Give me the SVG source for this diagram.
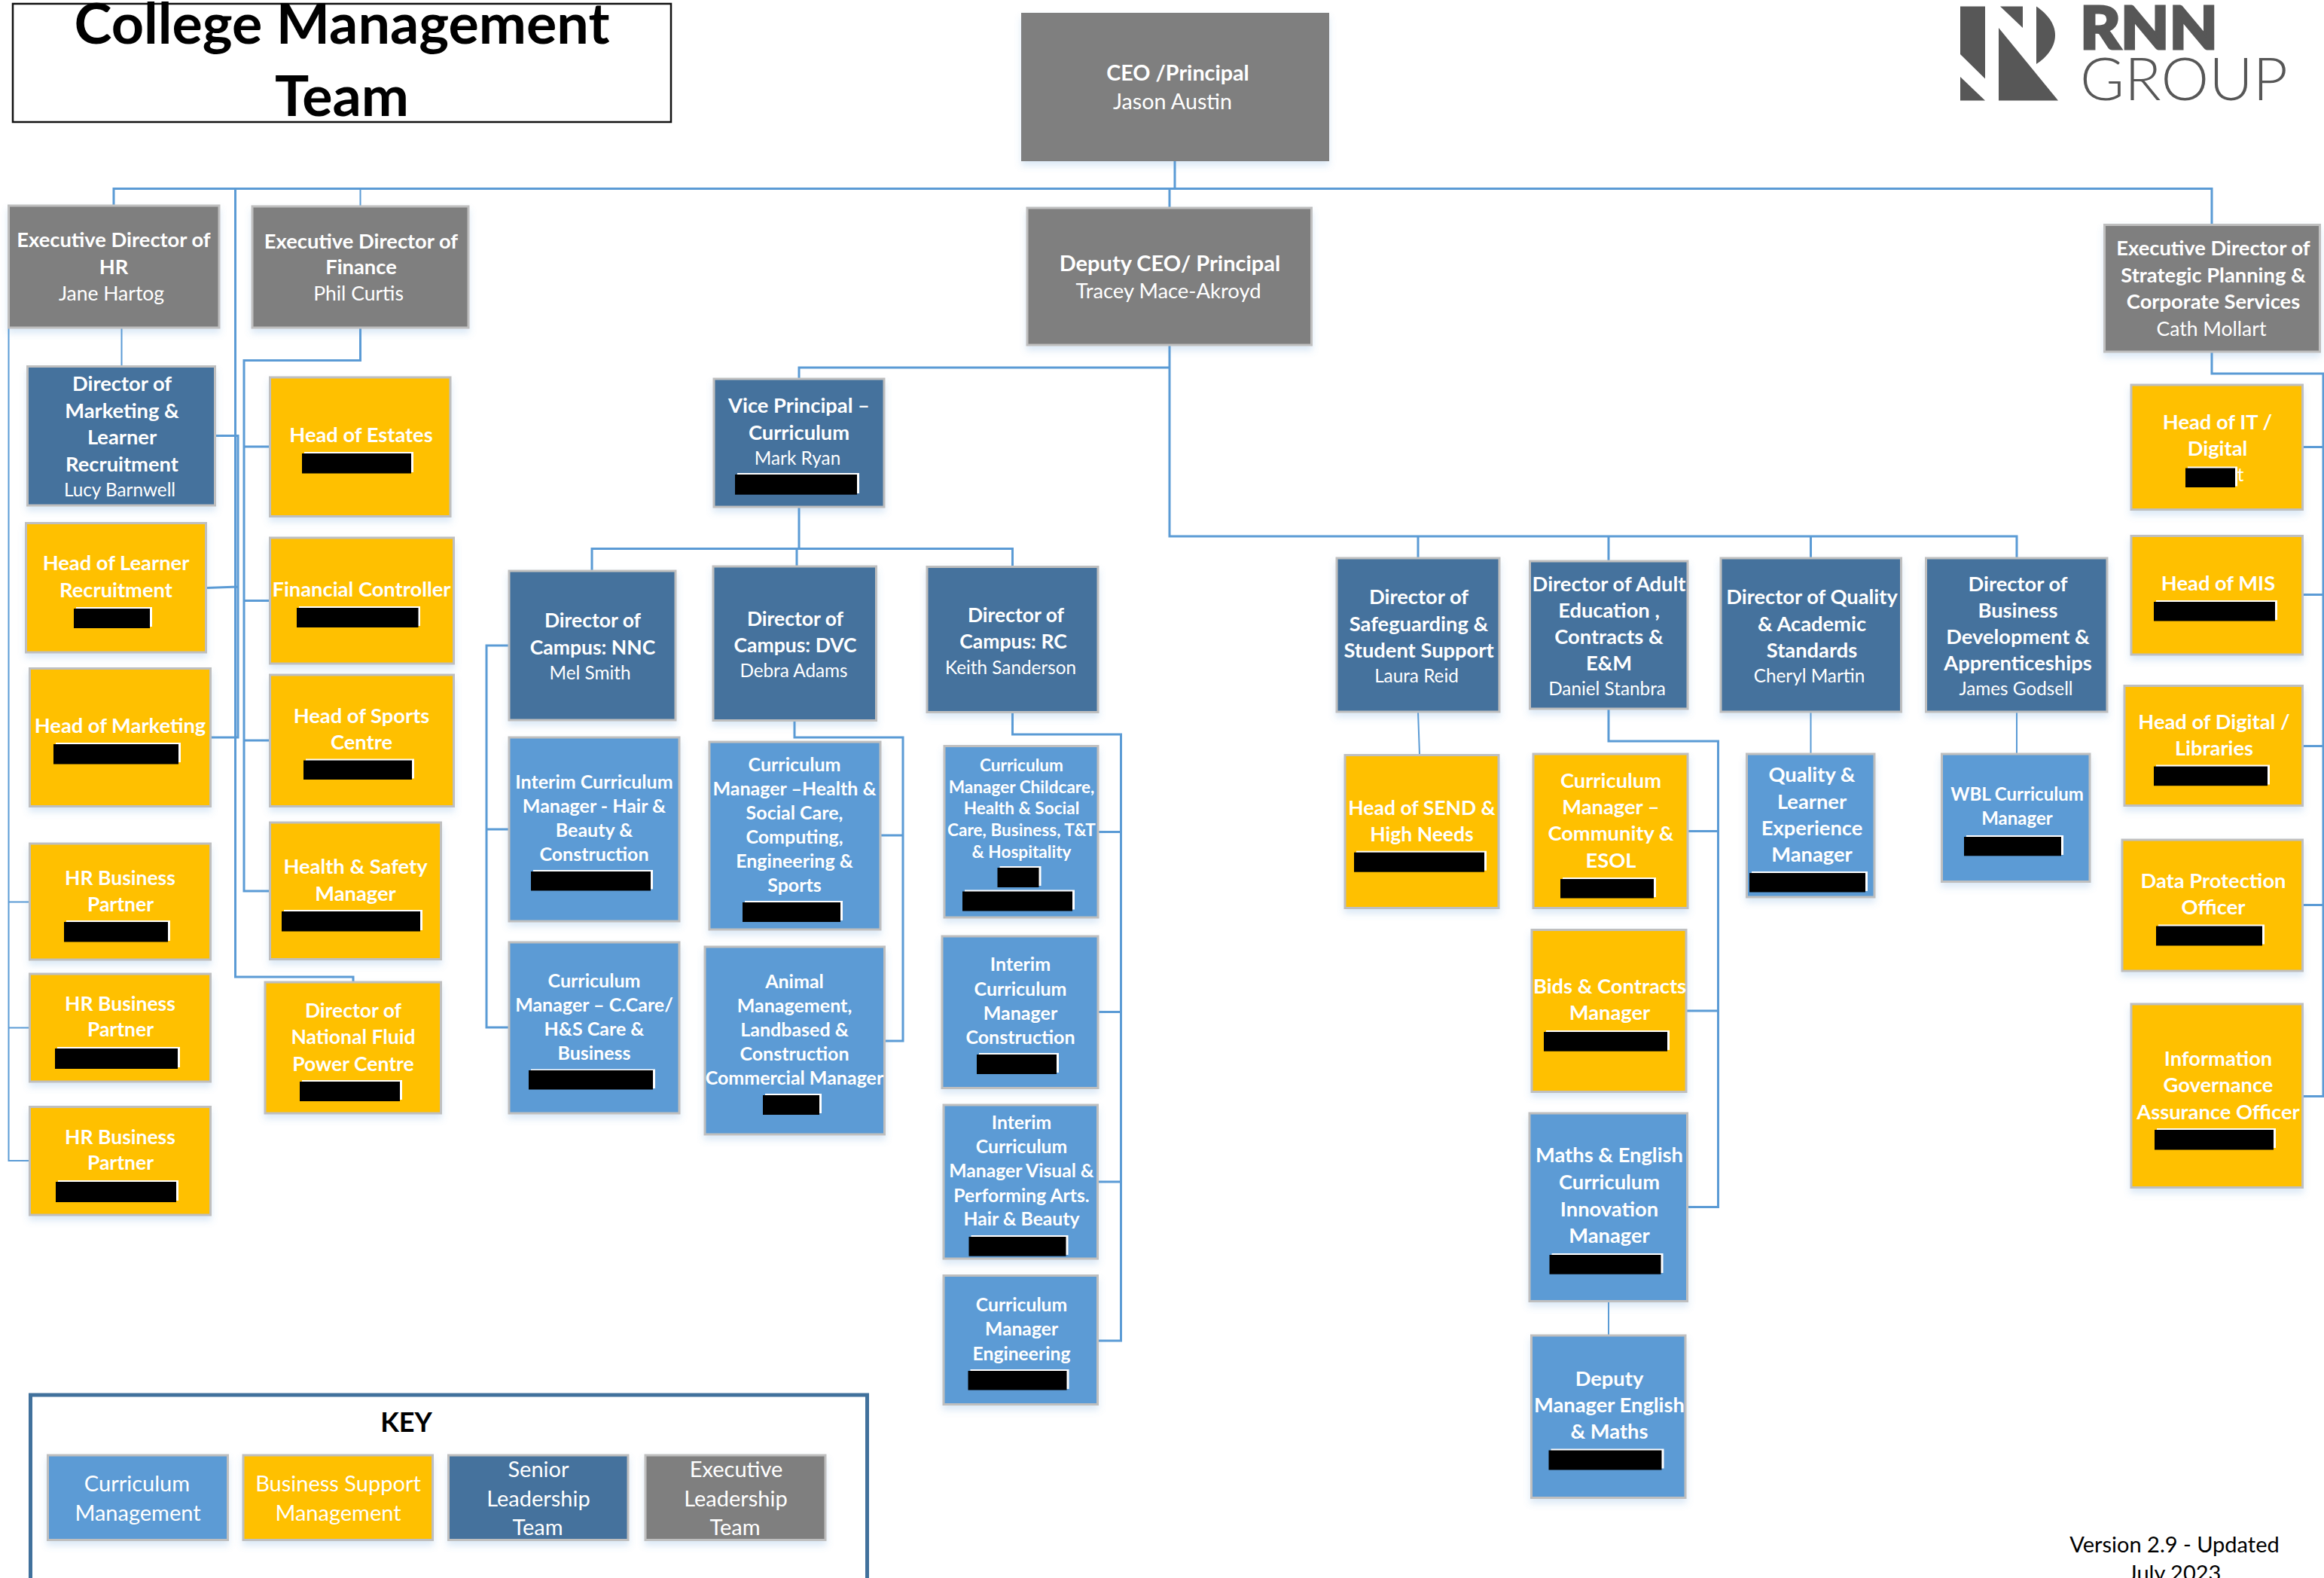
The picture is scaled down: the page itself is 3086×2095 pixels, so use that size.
<svg xmlns="http://www.w3.org/2000/svg" width="3086" height="2095" viewBox="0 0 3086 2095">
<style>
text{font-family:"Lato","Carlito","Noto Sans",sans-serif;fill:#fff;text-anchor:middle;font-weight:700}
.r{font-weight:400}
.n{font-weight:400}
.box{stroke:#bfbfbf;stroke-width:3;filter:url(#sh)}
.g{fill:#7f7f7f}.d{fill:#44729d}.c{fill:#5b9bd5}.y{fill:#ffc000}
.w{fill:#fff}.k{fill:#000}
.l{fill:none;stroke:#5b9bd5;stroke-width:3}
.t{stroke-width:2}
.s28 text{font-size:28.7px}
.s26 text{font-size:27.3px}.s265 text{font-size:26.5px}.s24 text{font-size:25px}.s21 text{font-size:22.6px}.s22 text{font-size:24.7px}.s23 text{font-size:24px}
.s26 .r,.s265 .r{font-size:26.5px}
.s26 .n,.s265 .n{font-size:24.3px}
.blk{fill:#000}
.logo{fill:#575757}
</style>
<defs><filter id="sh" x="-10%" y="-10%" width="120%" height="125%"><feDropShadow dx="0" dy="6" stdDeviation="5" flood-color="#5b9bd5" flood-opacity=".22"/></filter></defs>

<g id="title"><rect x="17" y="5" width="874" height="157" fill="#fff" stroke="#111" stroke-width="2.5"/>
<text class="blk" x="454" y="58" font-size="75.500">College Management</text><text class="blk" x="454" y="154" font-size="75.500">Team</text></g>

<g id="logo"><polygon class="logo" points="2603,8.500 2636,8.500 2636,104.500 2603,72"/><polygon class="logo" points="2603,102 2636,133.500 2603,133.500"/><polygon class="logo" points="2656,8.500 2686,8.500 2686,37"/><path class="logo" d="M2704,8.500C2718,18 2729,31 2729,47C2729,62 2718,76 2704,85Z"/><polygon class="logo" points="2654,37 2733,133.500 2654,133.500"/>
<text x="2853.500" y="65" font-size="78" textLength="183" lengthAdjust="spacingAndGlyphs" style="fill:#575757;font-weight:900;stroke:#575757;stroke-width:3">RNN</text>
<text x="2900" y="133" font-size="78" textLength="276" lengthAdjust="spacingAndGlyphs" style="fill:#575757;font-weight:300">GROUP</text></g>

<g id="connectors">
<path class="l" d="M1560 214V250.500M151 272V250.500H2937V298M1553 250.500V276M1553 458V712H2678V741M1553 488H1061V503M1061 673V728.500M786 758V728.500H1344.500V752M1058 728.500V752"/>
<path class="l" d="M1883 712V741M2136 712V745M2404.500 712V741"/>
<path class="l t" d="M1883 945L1885 1002M2404.500 945V1001M2678 945V1001"/>
<path class="l" d="M2136 941V984H2281.500V1602.500H2240M2241 1103.500H2281.500M2239 1342H2281.500"/>
<path class="l t" d="M2136 1727V1773"/>
<path class="l" d="M676 857H646V1364H676M646 1101H676"/>
<path class="l" d="M1055 957V979H1199V1382H1174M1169 1109H1199"/>
<path class="l" d="M1344.500 945V975H1488.500V1780H1457M1458 1104.500H1488.500M1458 1343.500H1488.500M1457 1569H1488.500"/>
<path class="l t" d="M11.500 355V1541H40M11.500 1197.500H40M11.500 1364.500H40"/>
<path class="l t" d="M161.500 435V487"/>
<path class="l" d="M478.500 435V478.500H324V1183H358M324 593H358M324 797.500H358M324 983H358"/>
<path class="l" d="M312.500 250.500V1297H469V1304"/>
<path class="l t" d="M478.500 250.500V274"/>
<path class="l" d="M286 578.500H316V979H279M274 780.500L316 779"/>
<path class="l" d="M2937 467V496H3085V1455.500H3057M3057 593.500H3085M3057 789.500H3085M3057 990.500H3085M3057 1201.500H3085"/>
</g>

<g id="ceo" class="s28"><rect x="1356" y="17" width="409" height="197" class="g" style="filter:url(#sh)"/><text x="1564" y="106.500">CEO /Principal</text><text class="r" x="1557" y="145">Jason Austin</text></g>
<g id="deputy"><rect class="box g" x="1364" y="276" width="377.500" height="182"/><text x="1553.500" y="360" font-size="29">Deputy CEO/ Principal</text><text class="r" x="1551.500" y="395.500" font-size="27.400">Tracey Mace-Akroyd</text></g>
<g id="hr" class="s26"><rect class="box g" x="11.500" y="273" width="279.500" height="162"/><text x="151" y="328">Executive Director of</text><text x="151" y="363.500">HR</text><text class="r" x="148" y="398.500">Jane Hartog</text></g>
<g id="finance" class="s26"><rect class="box g" x="335" y="274" width="287" height="161"/><text x="479.500" y="329.500">Executive Director of</text><text x="479.500" y="364">Finance</text><text class="r" x="476" y="399">Phil Curtis</text></g>
<g id="strategic" class="s26"><rect class="box g" x="2794.500" y="298.500" width="286" height="168.500"/><text x="2939" y="339.300">Executive Director of</text><text x="2939" y="375">Strategic Planning &amp;</text><text x="2939" y="410.400">Corporate Services</text><text class="r" x="2936.500" y="445.800">Cath Mollart</text></g>

<g id="marketing-director" class="s26"><rect class="box d" x="36.500" y="486.500" width="249" height="184.500"/><text x="162" y="519">Director of</text><text x="162" y="555">Marketing &amp;</text><text x="162" y="590">Learner</text><text x="162" y="625.500">Recruitment</text><text class="n" x="159" y="659">Lucy Barnwell</text></g>
<g id="learner-recruitment" class="s26"><rect class="box y" x="34.500" y="694.500" width="239" height="171.500"/><text x="154" y="757">Head of Learner</text><text x="154" y="792.500">Recruitment</text><rect class="w" x="101" y="806" width="101" height="26"/><rect class="k" x="98" y="808" width="101" height="26"/></g>
<g id="head-marketing" class="s26"><rect class="box y" x="39.500" y="887.500" width="240" height="183"/><text x="159.500" y="973.300">Head of Marketing</text><rect class="w" x="74" y="986" width="166" height="26"/><rect class="k" x="71" y="988" width="166" height="26.500"/></g>
<g id="hrbp1" class="s265"><rect class="box y" x="39.500" y="1120" width="240" height="154"/><text x="159.500" y="1174.600">HR Business</text><text x="160" y="1209.500">Partner</text><rect class="w" x="88" y="1222" width="138" height="27"/><rect class="k" x="85" y="1224" width="138" height="26.500"/></g>
<g id="hrbp2" class="s265"><rect class="box y" x="39.500" y="1293" width="240" height="143"/><text x="159.500" y="1341.600">HR Business</text><text x="160" y="1376.400">Partner</text><rect class="w" x="76" y="1390" width="163" height="27"/><rect class="k" x="73" y="1392" width="163" height="27"/></g>
<g id="hrbp3" class="s265"><rect class="box y" x="39.500" y="1469.500" width="240" height="143.500"/><text x="159.500" y="1518.600">HR Business</text><text x="160" y="1553.300">Partner</text><rect class="w" x="77" y="1567" width="160" height="27"/><rect class="k" x="74" y="1569" width="160" height="27"/></g>

<g id="estates" class="s26"><rect class="box y" x="358.500" y="501" width="239.500" height="184.500"/><text x="479.500" y="587">Head of Estates</text><rect class="w" x="404" y="600" width="145" height="27"/><rect class="k" x="401" y="602" width="145" height="26.500"/></g>
<g id="financial-controller" class="s26"><rect class="box y" x="358.500" y="714" width="244" height="167"/><text x="480" y="791.600">Financial Controller</text><rect class="w" x="397" y="805" width="161" height="26"/><rect class="k" x="394" y="807" width="161.500" height="26"/></g>
<g id="sports" class="s26"><rect class="box y" x="358.500" y="896" width="244" height="174.500"/><text x="480" y="959.500">Head of Sports</text><text x="480" y="994.700">Centre</text><rect class="w" x="406" y="1007.500" width="144" height="26"/><rect class="k" x="403" y="1009.500" width="144" height="25.500"/></g>
<g id="health-safety" class="s26"><rect class="box y" x="358.500" y="1092" width="227" height="181.500"/><text x="472" y="1160">Health &amp; Safety</text><text x="472" y="1195.600">Manager</text><rect class="w" x="377" y="1208" width="184" height="27"/><rect class="k" x="374" y="1210" width="184" height="26.500"/></g>
<g id="nfpc" class="s265"><rect class="box y" x="352" y="1304" width="233.500" height="174"/><text x="469" y="1350.500">Director of</text><text x="469" y="1385.500">National Fluid</text><text x="469" y="1421.500">Power Centre</text><rect class="w" x="401" y="1434" width="133" height="26"/><rect class="k" x="398" y="1436" width="133" height="26"/></g>

<g id="vice-principal" class="s26"><rect class="box d" x="948" y="503" width="226" height="170"/><text x="1061" y="548">Vice Principal –</text><text x="1061" y="583.500">Curriculum</text><text class="n" x="1059" y="617">Mark Ryan</text><rect class="w" x="979" y="628" width="162" height="27"/><rect class="k" x="976" y="630" width="162" height="26.700"/></g>
<g id="nnc" class="s265"><rect class="box d" x="676" y="758" width="221" height="198"/><text x="787" y="833">Director of</text><text x="787" y="868.500">Campus: NNC</text><text class="n" x="783.500" y="902">Mel Smith</text></g>
<g id="dvc" class="s265"><rect class="box d" x="947" y="752" width="216.500" height="204.500"/><text x="1056" y="830.700">Director of</text><text x="1056" y="866.400">Campus: DVC</text><text class="n" x="1054" y="899">Debra Adams</text></g>
<g id="rc" class="s265"><rect class="box d" x="1231" y="752.500" width="227" height="193"/><text x="1349" y="825.600">Director of</text><text x="1345.500" y="860.800">Campus: RC</text><text class="n" x="1342" y="894.500">Keith Sanderson</text></g>

<g id="interim-hair" class="s24"><rect class="box c" x="676" y="979" width="226" height="244"/><text x="789" y="1046.500">Interim Curriculum</text><text x="789" y="1078.700">Manager - Hair &amp;</text><text x="789" y="1110.800">Beauty &amp;</text><text x="789" y="1143">Construction</text><rect class="w" x="708" y="1155" width="159" height="25.500"/><rect class="k" x="705" y="1157" width="159" height="25.500"/></g>
<g id="ccare" class="s24"><rect class="box c" x="676" y="1251" width="226" height="227"/><text x="789" y="1310.800">Curriculum</text><text x="789" y="1343">Manager – C.Care/</text><text x="789" y="1375">H&amp;S Care &amp;</text><text x="789" y="1406.700">Business</text><rect class="w" x="705" y="1419.500" width="165" height="25.500"/><rect class="k" x="702" y="1421" width="165" height="25.500"/></g>
<g id="health-social" class="s24"><rect class="box c" x="942" y="985" width="227" height="249"/><text x="1055" y="1024">Curriculum</text><text x="1055" y="1056">Manager –Health &amp;</text><text x="1055" y="1088">Social Care,</text><text x="1055" y="1120">Computing,</text><text x="1055" y="1152">Engineering &amp;</text><text x="1055" y="1183.800">Sports</text><rect class="w" x="989" y="1196" width="130" height="26"/><rect class="k" x="986" y="1198" width="130" height="26"/></g>
<g id="animal" class="s24"><rect class="box c" x="936" y="1257" width="238.500" height="249"/><text x="1055" y="1311.800">Animal</text><text x="1055" y="1344">Management,</text><text x="1055" y="1376">Landbased &amp;</text><text x="1055" y="1408">Construction</text><text x="1055" y="1440">Commercial Manager</text><rect class="w" x="1016" y="1452" width="75" height="26"/><rect class="k" x="1013" y="1454" width="75" height="26"/></g>
<g id="childcare" class="s21"><rect class="box c" x="1254" y="990.500" width="204" height="227.500"/><text x="1356.500" y="1024">Curriculum</text><text x="1356.500" y="1053">Manager Childcare,</text><text x="1356.500" y="1081">Health &amp; Social</text><text x="1356.500" y="1110">Care, Business, T&amp;T</text><text x="1356.500" y="1139">&amp; Hospitality</text><rect class="w" x="1327.500" y="1150" width="55" height="26"/><rect class="k" x="1324.500" y="1152" width="55" height="26"/><rect class="w" x="1281" y="1181.500" width="146" height="26"/><rect class="k" x="1278" y="1183.500" width="146" height="26"/></g>
<g id="interim-construction" class="s24"><rect class="box c" x="1251" y="1243" width="207" height="201.500"/><text x="1355" y="1289.400">Interim</text><text x="1355" y="1321.500">Curriculum</text><text x="1355" y="1353.700">Manager</text><text x="1355" y="1385.800">Construction</text><rect class="w" x="1300" y="1398" width="106" height="26"/><rect class="k" x="1297" y="1400" width="106" height="26"/></g>
<g id="interim-visual" class="s22"><rect class="box c" x="1253" y="1467" width="204.500" height="204"/><text x="1356.500" y="1499.300">Interim</text><text x="1356.500" y="1531.200">Curriculum</text><text x="1356.500" y="1563">Manager Visual &amp;</text><text x="1356.500" y="1595.500">Performing Arts.</text><text x="1356.500" y="1627.400">Hair &amp; Beauty</text><rect class="w" x="1289.500" y="1640" width="129" height="26"/><rect class="k" x="1286.500" y="1642" width="129" height="25.700"/></g>
<g id="engineering" class="s22"><rect class="box c" x="1253" y="1693.500" width="204.500" height="171"/><text x="1356.500" y="1741.300">Curriculum</text><text x="1356.500" y="1773.200">Manager</text><text x="1356.500" y="1805.600">Engineering</text><rect class="w" x="1288.500" y="1818" width="131" height="26"/><rect class="k" x="1285.500" y="1820" width="131" height="25.500"/></g>

<g id="safeguarding" class="s26"><rect class="box d" x="1775" y="741" width="216" height="204"/><text x="1884" y="801.600">Director of</text><text x="1884" y="837.800">Safeguarding &amp;</text><text x="1884" y="872.800">Student Support</text><text class="n" x="1881" y="905.500">Laura Reid</text></g>
<g id="adult" class="s26"><rect class="box d" x="2031.500" y="745" width="209.500" height="196"/><text x="2136.500" y="785">Director of Adult</text><text x="2136.500" y="820">Education ,</text><text x="2136.500" y="855">Contracts &amp;</text><text x="2136.500" y="890">E&amp;M</text><text class="n" x="2134" y="922.700">Daniel Stanbra</text></g>
<g id="quality" class="s26"><rect class="box d" x="2285" y="741" width="239.500" height="204"/><text x="2406" y="801.600">Director of Quality</text><text x="2406" y="837.800">&amp; Academic</text><text x="2406" y="872.800">Standards</text><text class="n" x="2402.500" y="905.500">Cheryl Martin</text></g>
<g id="business-dev" class="s26"><rect class="box d" x="2557.500" y="741" width="240.500" height="204"/><text x="2679.500" y="785">Director of</text><text x="2679.500" y="820">Business</text><text x="2679.500" y="855">Development &amp;</text><text x="2679.500" y="890">Apprenticeships</text><text class="n" x="2677" y="922.700">James Godsell</text></g>

<g id="send" class="s265"><rect class="box y" x="1786" y="1002.500" width="204" height="203"/><text x="1888" y="1081.700">Head of SEND &amp;</text><text x="1888" y="1116.800">High Needs</text><rect class="w" x="1801" y="1129.700" width="173" height="26"/><rect class="k" x="1798" y="1131.700" width="173" height="26"/></g>
<g id="community" class="s26"><rect class="box y" x="2036" y="1001" width="205" height="204.500"/><text x="2139" y="1046">Curriculum</text><text x="2139" y="1081">Manager –</text><text x="2139" y="1116">Community &amp;</text><text x="2139" y="1151.800">ESOL</text><rect class="w" x="2075" y="1165" width="124" height="26"/><rect class="k" x="2072" y="1167" width="124" height="25.500"/></g>
<g id="bids" class="s26"><rect class="box y" x="2034" y="1234.500" width="205" height="215"/><text x="2137.500" y="1318.800">Bids &amp; Contracts</text><text x="2137.500" y="1354.400">Manager</text><rect class="w" x="2053" y="1368" width="164" height="26"/><rect class="k" x="2050" y="1370" width="164" height="25.700"/></g>
<g id="maths" class="s26"><rect class="box c" x="2031" y="1478" width="209.500" height="249.500"/><text x="2137" y="1543">Maths &amp; English</text><text x="2137" y="1578.600">Curriculum</text><text x="2137" y="1614.500">Innovation</text><text x="2137" y="1650">Manager</text><rect class="w" x="2060.500" y="1664" width="148" height="26"/><rect class="k" x="2057.500" y="1666" width="148" height="25.700"/></g>
<g id="deputy-maths" class="s26"><rect class="box c" x="2033.500" y="1773" width="204.500" height="215.500"/><text x="2137" y="1839.700">Deputy</text><text x="2137" y="1874.700">Manager English</text><text x="2137" y="1909.800">&amp; Maths</text><rect class="w" x="2059.500" y="1923.500" width="150" height="26"/><rect class="k" x="2056.500" y="1925.500" width="150" height="26"/></g>
<g id="quality-learner" class="s26"><rect class="box c" x="2319.500" y="1001" width="169.500" height="190"/><text x="2406" y="1038">Quality &amp;</text><text x="2406" y="1073.700">Learner</text><text x="2406" y="1108.700">Experience</text><text x="2406" y="1143.700">Manager</text><rect class="w" x="2326" y="1157" width="154" height="26"/><rect class="k" x="2323" y="1159" width="154" height="25.500"/></g>
<g id="wbl" class="s23"><rect class="box c" x="2578.500" y="1001" width="196.500" height="169.500"/><text x="2678.500" y="1063.400">WBL Curriculum</text><text x="2678.500" y="1095">Manager</text><rect class="w" x="2611" y="1109" width="129" height="26"/><rect class="k" x="2608" y="1111" width="129" height="25.300"/></g>

<g id="head-it" class="s26"><rect class="box y" x="2830" y="511" width="227.500" height="165.500"/><text x="2944.500" y="569.700">Head of IT /</text><text x="2944.500" y="605">Digital</text><text x="2975" y="639" class="n">t</text><rect class="w" x="2905" y="619.500" width="66" height="26"/><rect class="k" x="2902" y="621.500" width="66" height="25.500"/></g>
<g id="mis" class="s26"><rect class="box y" x="2830" y="711.500" width="227.500" height="157.500"/><text x="2945.500" y="784.400">Head of MIS</text><rect class="w" x="2863" y="797" width="161" height="26"/><rect class="k" x="2860" y="799" width="161" height="25.500"/></g>
<g id="digital" class="s26"><rect class="box y" x="2821" y="910.500" width="236.500" height="159"/><text x="2940" y="968">Head of Digital /</text><text x="2940" y="1002.500">Libraries</text><rect class="w" x="2863" y="1015.500" width="151" height="26"/><rect class="k" x="2860" y="1017.500" width="151" height="25.700"/></g>
<g id="dpo" class="s26"><rect class="box y" x="2818" y="1115" width="239.500" height="174"/><text x="2939" y="1179.300">Data Protection</text><text x="2939" y="1213.800">Officer</text><rect class="w" x="2866" y="1227.500" width="141" height="26"/><rect class="k" x="2863" y="1229.500" width="141" height="26"/></g>
<g id="info-gov" class="s26"><rect class="box y" x="2830" y="1333" width="227.500" height="243.500"/><text x="2945.500" y="1415.300">Information</text><text x="2945.500" y="1450.300">Governance</text><text x="2945.500" y="1485.900">Assurance Officer</text><rect class="w" x="2864" y="1498" width="158" height="26"/><rect class="k" x="2861" y="1500" width="158" height="26.500"/></g>

<g id="key"><path d="M40.500 2095V1852H1151.500V2095" fill="none" stroke="#41719c" stroke-width="5"/><text class="blk" x="539.500" y="1901" font-size="36">KEY</text>
<rect class="box c" x="63.500" y="1932" width="239" height="112.500"/><text class="r" x="182" y="1980" font-size="29">Curriculum</text><text class="r" x="183" y="2019" font-size="29">Management</text>
<rect class="box y" x="323" y="1932" width="251.500" height="112.500"/><text class="r" x="449" y="1980" font-size="29">Business Support</text><text class="r" x="449" y="2019" font-size="29">Management</text>
<rect class="box d" x="595.500" y="1932" width="238.500" height="112.500"/><text class="r" x="715" y="1961" font-size="29">Senior</text><text class="r" x="715" y="2000" font-size="29">Leadership</text><text class="r" x="714" y="2037.500" font-size="29">Team</text>
<rect class="box g" x="857" y="1932" width="239" height="112.500"/><text class="r" x="977.500" y="1961" font-size="29">Executive</text><text class="r" x="977" y="2000" font-size="29">Leadership</text><text class="r" x="976" y="2037.500" font-size="29">Team</text></g>

<g id="version"><text class="blk r" x="2887.500" y="2060.500" font-size="29">Version 2.9 - Updated</text><text class="blk r" x="2887.500" y="2099" font-size="29">July 2023</text></g>
</svg>
